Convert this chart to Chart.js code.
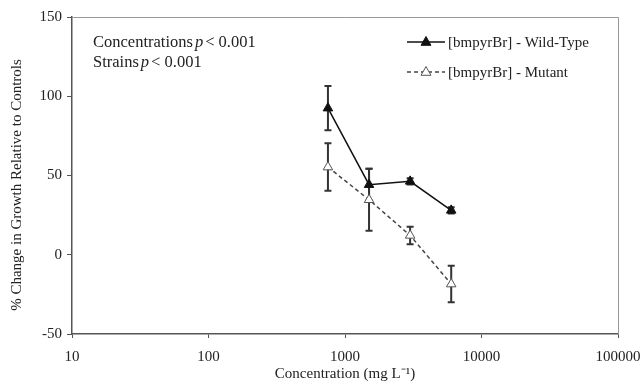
<!DOCTYPE html>
<html>
<head>
<meta charset="utf-8">
<script src="https://cdn.jsdelivr.net/npm/chart.js@4/dist/chart.umd.min.js"></script>
<style>
  html, body { margin: 0; padding: 0; background: #fff; }
  #wrap { width: 642px; height: 383px; }
</style>
</head>
<body>
<div id="wrap"><canvas id="myChart" width="642" height="383"></canvas></div>
<script>
var concentrations = [750, 1500, 3000, 6000];
var wildType = [92.5, 44.2, 46.3, 28];
var wildTypeErr = [14, 10, 2, 2];
var mutant = [55.3, 34.7, 12.2, -18.5];
var mutantErr = [15, 19.5, 5.5, 11.5];
var xTicks = [10, 100, 1000, 10000, 100000];

var serif = '"Liberation Serif", "Times New Roman", serif';
var textColor = '#222';

function pts(ys) {
  return concentrations.map(function (c, i) { return { x: c, y: ys[i] }; });
}

var errorBars = {
  id: 'errorBars',
  beforeDatasetsDraw: function (chart) {
    var ctx = chart.ctx;
    var xs = chart.scales.x, ys = chart.scales.y;
    var sets = [[wildType, wildTypeErr], [mutant, mutantErr]];
    ctx.save();
    ctx.strokeStyle = '#333';
    ctx.lineWidth = 2;
    sets.forEach(function (s) {
      concentrations.forEach(function (c, i) {
        var px = xs.getPixelForValue(c);
        var top = ys.getPixelForValue(s[0][i] + s[1][i]);
        var bot = ys.getPixelForValue(s[0][i] - s[1][i]);
        ctx.beginPath();
        ctx.moveTo(px, top); ctx.lineTo(px, bot);
        ctx.moveTo(px - 3.5, top); ctx.lineTo(px + 3.5, top);
        ctx.moveTo(px - 3.5, bot); ctx.lineTo(px + 3.5, bot);
        ctx.stroke();
      });
    });
    ctx.restore();
  }
};

function tri(ctx, x, y, r, fill) {
  ctx.beginPath();
  ctx.moveTo(x, y - r);
  ctx.lineTo(x + r * 0.9, y + r * 0.6);
  ctx.lineTo(x - r * 0.9, y + r * 0.6);
  ctx.closePath();
  ctx.fillStyle = fill;
  ctx.fill();
  ctx.stroke();
}

var extras = {
  id: 'extras',
  afterDraw: function (chart) {
    var ctx = chart.ctx;
    var a = chart.chartArea;
    ctx.save();
    // top and right frame
    ctx.strokeStyle = '#999';
    ctx.lineWidth = 1;
    ctx.beginPath();
    ctx.moveTo(a.left, a.top + 0.5);
    ctx.lineTo(a.right + 0.5, a.top + 0.5);
    ctx.lineTo(a.right + 0.5, a.bottom);
    ctx.stroke();

    // y axis title
    ctx.save();
    ctx.translate(17, 185);
    ctx.rotate(-Math.PI / 2);
    ctx.font = '15px ' + serif;
    ctx.fillStyle = textColor;
    ctx.textAlign = 'center';
    ctx.textBaseline = 'middle';
    ctx.fillText('% Change in Growth Relative to Controls', 0, 0);
    ctx.restore();

    // statistics note
    ctx.fillStyle = textColor;
    ctx.textBaseline = 'alphabetic';
    var lines = [['Concentrations', 47], ['Strains', 67]];
    lines.forEach(function (l) {
      var x = 93;
      ctx.font = '16.5px ' + serif;
      ctx.fillText(l[0], x, l[1]);
      x += ctx.measureText(l[0]).width + 2;
      ctx.font = 'italic 16.5px ' + serif;
      ctx.fillText('p', x, l[1]);
      x += ctx.measureText('p').width + 2;
      ctx.font = '16.5px ' + serif;
      ctx.fillText('< 0.001', x, l[1]);
    });

    // legend
    ctx.font = '15px ' + serif;
    ctx.strokeStyle = '#111';
    ctx.lineWidth = 1.5;
    ctx.beginPath(); ctx.moveTo(407, 42); ctx.lineTo(445, 42); ctx.stroke();
    ctx.lineWidth = 1;
    tri(ctx, 426, 42, 5.5, '#111');
    ctx.fillStyle = textColor;
    ctx.fillText('[bmpyrBr] - Wild-Type', 448, 47);

    ctx.strokeStyle = '#444';
    ctx.lineWidth = 1.5;
    ctx.setLineDash([4, 3]);
    ctx.beginPath(); ctx.moveTo(407, 72); ctx.lineTo(445, 72); ctx.stroke();
    ctx.setLineDash([]);
    ctx.lineWidth = 1;
    ctx.strokeStyle = '#555';
    tri(ctx, 426, 72, 5.5, '#fff');
    ctx.fillStyle = textColor;
    ctx.fillText('[bmpyrBr] - Mutant', 448, 77);
    ctx.restore();
  }
};

new Chart(document.getElementById('myChart'), {
  type: 'line',
  data: {
    datasets: [{
      label: '[bmpyrBr] - Wild-Type',
      data: pts(wildType),
      borderColor: '#111',
      borderWidth: 1.5,
      pointStyle: 'triangle',
      pointRadius: 5.5,
      pointBackgroundColor: '#111',
      pointBorderColor: '#111',
      pointBorderWidth: 1
    }, {
      label: '[bmpyrBr] - Mutant',
      data: pts(mutant),
      borderColor: '#444',
      borderWidth: 1.5,
      borderDash: [4, 3],
      pointStyle: 'triangle',
      pointRadius: 5.5,
      pointBackgroundColor: '#fff',
      pointBorderColor: '#555',
      pointBorderWidth: 1
    }]
  },
  options: {
    responsive: false,
    animation: false,
    layout: { padding: { top: 17, right: 24, left: 0, bottom: 0 } },
    plugins: {
      legend: { display: false },
      tooltip: { enabled: false }
    },
    scales: {
      x: {
        type: 'logarithmic',
        min: 10,
        max: 100000,
        afterBuildTicks: function (scale) {
          scale.ticks = xTicks.map(function (v) { return { value: v }; });
        },
        afterFit: function (scale) {
          scale.height = 49;
          scale.paddingLeft = 0;
          scale.paddingRight = 0;
        },
        border: { color: '#555', width: 1.5 },
        grid: { drawOnChartArea: false, tickLength: 4, color: '#555' },
        ticks: {
          color: textColor,
          font: { family: serif, size: 15 },
          padding: 10,
          maxRotation: 0,
          callback: function (v) { return String(v); }
        },
        title: {
          display: true,
          text: 'Concentration (mg L\u207B\u00B9)',
          color: textColor,
          font: { family: serif, size: 15 },
          padding: { top: 0, bottom: 0 }
        }
      },
      y: {
        min: -50,
        max: 150,
        afterFit: function (scale) {
          scale.width = 72;
          scale.paddingTop = 0;
          scale.paddingBottom = 0;
        },
        border: { color: '#555', width: 1.5 },
        grid: { drawOnChartArea: false, tickLength: 5, color: '#555' },
        ticks: {
          stepSize: 50,
          color: textColor,
          font: { family: serif, size: 15 },
          padding: 5
        }
      }
    }
  },
  plugins: [errorBars, extras]
});
</script>
</body>
</html>
